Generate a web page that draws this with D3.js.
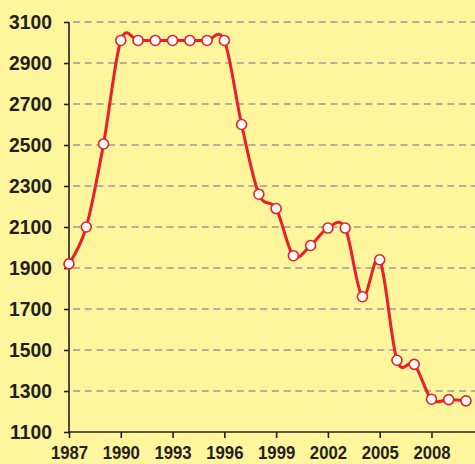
<!DOCTYPE html>
<html>
<head>
<meta charset="utf-8">
<script src="https://cdn.jsdelivr.net/npm/d3@7"></script>
<style>
  html, body { margin: 0; padding: 0; background: #fef59d; }
  svg { display: block; }
  .tick text { font-family: "Liberation Sans", Arial, sans-serif; font-weight: bold; fill: #231f20; }
</style>
</head>
<body>
<div id="chart"></div>
<script>
const years = d3.range(1987, 2011);
const values = [1920, 2100, 2505, 3010, 3010, 3010, 3010, 3010, 3010, 3010,
  2600, 2260, 2190, 1960, 2010, 2095, 2095, 1760, 1940, 1450, 1430, 1260, 1258, 1252];
const yTicks = [1100, 1300, 1500, 1700, 1900, 2100, 2300, 2500, 2700, 2900, 3100];
const xTicks = [1987, 1990, 1993, 1996, 1999, 2002, 2005, 2008];

const size = {width: 475, height: 464};
const margin = {top: 22, right: 0, bottom: 32, left: 69};

const svg = d3.select("#chart")
  .append("svg")
  .attr("width", size.width)
  .attr("height", size.height);

svg.append("rect")
  .attr("width", size.width)
  .attr("height", size.height)
  .attr("fill", "#fef59d");

const x = d3.scaleLinear()
  .domain([1987, 2010])
  .range([margin.left, 466]);

const y = d3.scaleLinear()
  .domain([1100, 3100])
  .range([size.height - margin.bottom, margin.top]);

// dashed grid
svg.append("g")
  .selectAll("line")
  .data(yTicks.slice(1))
  .join("line")
  .attr("x1", margin.left + 4)
  .attr("x2", size.width)
  .attr("y1", d => y(d))
  .attr("y2", d => y(d))
  .attr("stroke", "#9a9a9a")
  .attr("stroke-width", 1.5)
  .attr("stroke-dasharray", "7,4.7");

const yAxis = svg.append("g")
  .attr("transform", `translate(${margin.left},0)`)
  .call(d3.axisLeft(y).tickValues(yTicks).tickSize(5).tickPadding(0).tickFormat(d3.format("d")));

const xAxis = svg.append("g")
  .attr("transform", `translate(0,${y(1100)})`)
  .call(d3.axisBottom(x).tickValues(xTicks).tickSize(6).tickPadding(8).tickFormat(d3.format("d")));

for (const axis of [yAxis, xAxis]) {
  axis.select(".domain").attr("stroke", "#231f20").attr("stroke-width", 1.6);
  axis.selectAll(".tick line").attr("stroke", "#231f20").attr("stroke-width", 1.6);
}
// narrow the bold digits to match the condensed face of the original
yAxis.selectAll(".tick text")
  .style("font-size", "21px")
  .attr("x", 0)
  .attr("transform", "translate(-17,0) scale(0.92,1)");
xAxis.selectAll(".tick text")
  .style("font-size", "19px")
  .attr("transform", "scale(0.88,1)");
xAxis.select(".domain").attr("d", `M${margin.left},0H${size.width}`);
yAxis.select(".domain").attr("d", `M0,${y(3100)}V${y(1100)}`);

const points = years.map((year, i) => ({year, value: values[i]}));

svg.append("path")
  .datum(points)
  .attr("fill", "none")
  .attr("stroke", "#e8202a")
  .attr("stroke-width", 3)
  .attr("d", d3.line()
    .x(d => x(d.year))
    .y(d => y(d.value))
    .curve(d3.curveCardinal.tension(0)));

svg.append("g")
  .selectAll("circle")
  .data(points)
  .join("circle")
  .attr("cx", d => x(d.year))
  .attr("cy", d => y(d.value))
  .attr("r", 5)
  .attr("fill", "#ffffff")
  .attr("stroke", "#e8202a")
  .attr("stroke-width", 1.6);
</script>
</body>
</html>
